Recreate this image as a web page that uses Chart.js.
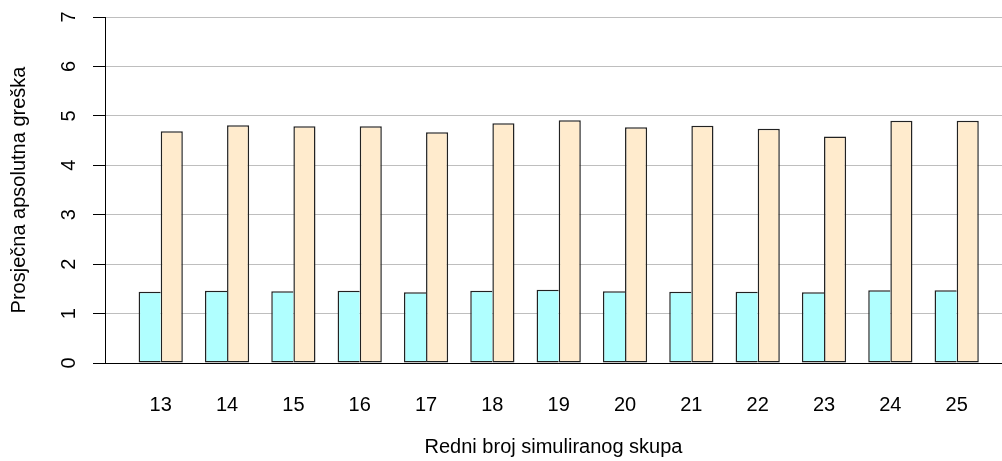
<!DOCTYPE html>
<html>
<head>
<meta charset="utf-8">
<script src="https://cdn.jsdelivr.net/npm/chart.js@4/dist/chart.umd.min.js"></script>
<style>
  html, body { margin: 0; padding: 0; background: #fff; }
  #wrap { width: 1002px; height: 461px; position: relative; }
</style>
</head>
<body>
<div id="wrap"><canvas id="myChart"></canvas></div>
<script>
const categories = ['13', '14', '15', '16', '17', '18', '19', '20', '21', '22', '23', '24', '25'];
const seriesA = [1.44, 1.46, 1.45, 1.46, 1.43, 1.46, 1.48, 1.45, 1.44, 1.44, 1.43, 1.47, 1.47];
const seriesB = [4.69, 4.81, 4.79, 4.79, 4.67, 4.85, 4.91, 4.77, 4.80, 4.74, 4.58, 4.90, 4.90];
const yTicks = [0, 1, 2, 3, 4, 5, 6, 7];

const font = { family: '"Liberation Sans", Arial, sans-serif', size: 20 };

// R barplot: each group is 2 bars + 1 bar of space, group centres at 3i+2
const groupX = i => 3 * i + 2;

const ctx = document.getElementById('myChart').getContext('2d');
const chart = new Chart(ctx, {
  type: 'bar',
  data: {
    datasets: [
      {
        label: 'A',
        data: seriesA.map((v, i) => ({ x: groupX(i), y: v })),
        backgroundColor: '#B0FFFF',
        borderColor: '#222',
        borderWidth: { left: 1.5, top: 1.5, bottom: 1.5, right: 0 },
        borderSkipped: false
      },
      {
        label: 'B',
        data: seriesB.map((v, i) => ({ x: groupX(i), y: v })),
        backgroundColor: '#FFEBCD',
        borderColor: '#222',
        borderWidth: 1.5,
        borderSkipped: false
      }
    ]
  },
  options: {
    responsive: true,
    maintainAspectRatio: false,
    animation: false,
    categoryPercentage: 2 / 3,
    barPercentage: 1,
    layout: { padding: { top: 17, right: 0, left: 0, bottom: 0 } },
    plugins: {
      legend: { display: false },
      tooltip: { enabled: false }
    },
    scales: {
      x: {
        type: 'linear',
        offset: false,
        min: -0.52,
        max: 40.05,
        grid: { display: false, drawTicks: false, offset: false },
        border: { display: false },
        afterBuildTicks: scale => {
          scale.ticks = categories.map((c, i) => ({ value: groupX(i) }));
        },
        afterFit: scale => {
          scale.height = 98;
          scale.paddingLeft = 0;
          scale.paddingRight = 0;
        },
        ticks: {
          autoSkip: false,
          maxRotation: 0,
          padding: 30,
          color: '#000',
          font,
          callback: v => categories[Math.round((v - 2) / 3)]
        },
        title: {
          display: true,
          text: 'Redni broj simuliranog skupa',
          color: '#000',
          font,
          padding: { top: 0, bottom: 2 }
        }
      },
      y: {
        min: 0,
        max: 7,
        afterBuildTicks: scale => {
          scale.ticks = yTicks.map(v => ({ value: v }));
        },
        afterFit: scale => {
          scale.width = 105;
          scale.paddingTop = 0;
          scale.paddingBottom = 0;
        },
        grid: {
          color: c => (c.tick && c.tick.value === 0 ? '#000' : '#BEBEBE'),
          lineWidth: 1,
          drawTicks: true,
          tickLength: 12,
          tickColor: '#000',
          tickWidth: 1
        },
        border: { display: true, color: '#000', width: 1 },
        ticks: {
          minRotation: 90,
          maxRotation: 90,
          crossAlign: 'center',
          padding: 18.4,
          color: '#000',
          font
        },
        title: {
          display: true,
          text: 'Prosječna apsolutna greška',
          color: '#000',
          font,
          padding: { top: 7.8, bottom: 0 }
        }
      }
    }
  }
});
</script>
</body>
</html>
